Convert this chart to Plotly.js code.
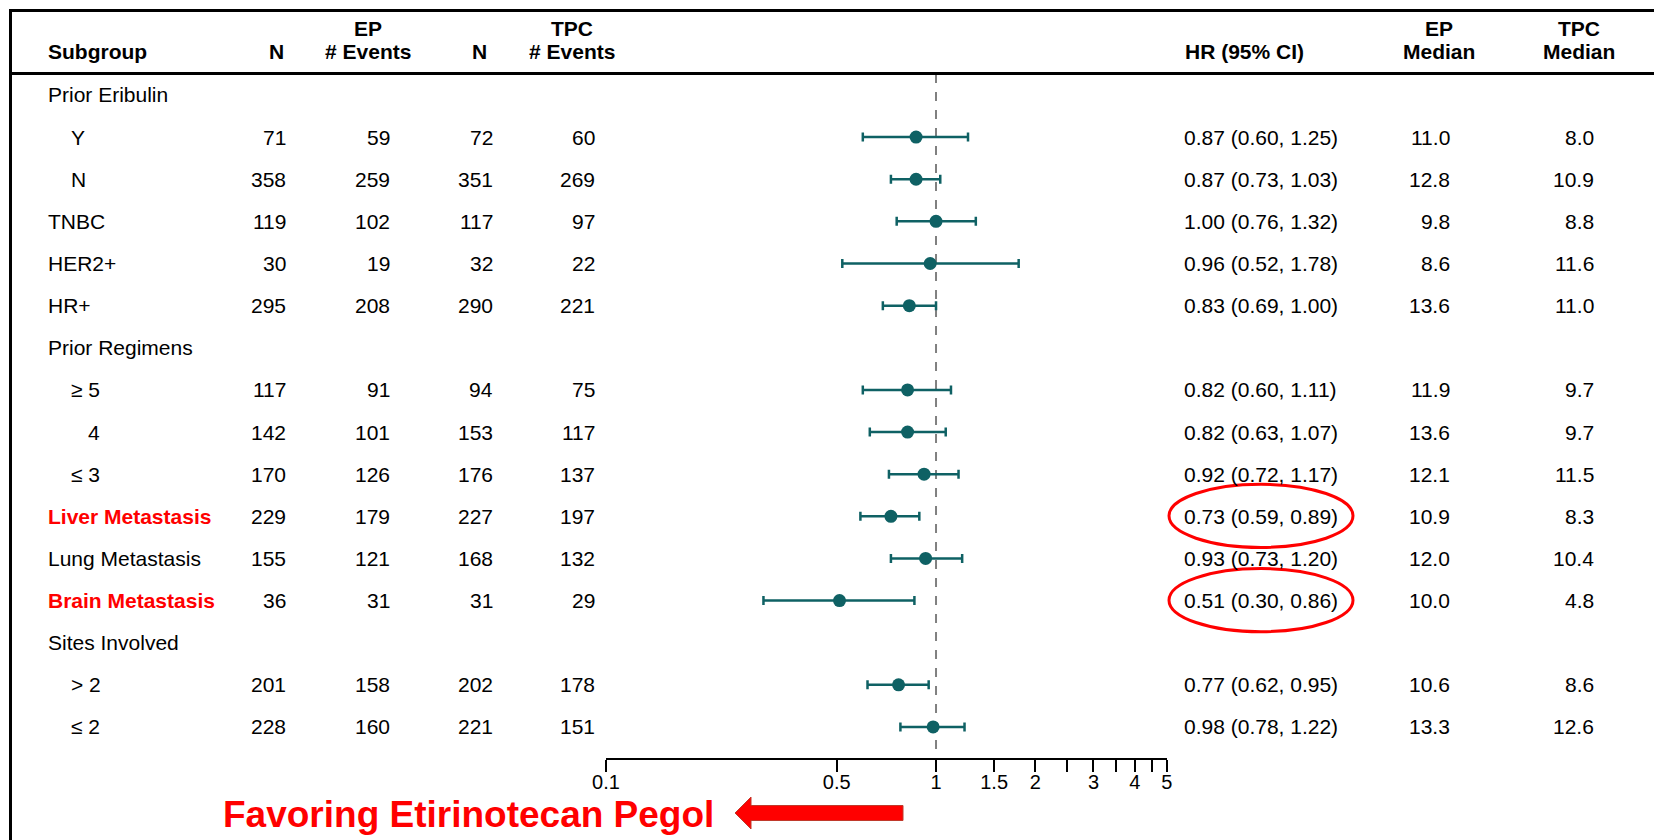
<!DOCTYPE html>
<html>
<head>
<meta charset="utf-8">
<script src="https://cdn.plot.ly/plotly-3.0.1.min.js"></script>
<style>html,body{margin:0;padding:0;background:#fff;}#chart{width:1654px;height:840px;}</style>
</head>
<body>
<div id="chart"></div>
<script>
// ---- data ----
const subgroups = ['Prior Eribulin','Y','N','TNBC','HER2+','HR+','Prior Regimens','≥ 5','4','≤ 3','Liver Metastasis','Lung Metastasis','Brain Metastasis','Sites Involved','> 2','≤ 2'];
const indentLevel = [0,1,1,0,0,0,0,1,2,1,0,0,0,0,1,1];
const highlighted = ['Liver Metastasis','Brain Metastasis'];
const epN       = [null,71,358,119,30,295,null,117,142,170,229,155,36,null,201,228];
const epEvents  = [null,59,259,102,19,208,null,91,101,126,179,121,31,null,158,160];
const tpcN      = [null,72,351,117,32,290,null,94,153,176,227,168,31,null,202,221];
const tpcEvents = [null,60,269,97,22,221,null,75,117,137,197,132,29,null,178,151];
const hr        = [null,0.87,0.87,1.00,0.96,0.83,null,0.82,0.82,0.92,0.73,0.93,0.51,null,0.77,0.98];
const hrLower   = [null,0.60,0.73,0.76,0.52,0.69,null,0.60,0.63,0.72,0.59,0.73,0.30,null,0.62,0.78];
const hrUpper   = [null,1.25,1.03,1.32,1.78,1.00,null,1.11,1.07,1.17,0.89,1.20,0.86,null,0.95,1.22];
const epMedian  = [null,'11.0','12.8','9.8','8.6','13.6',null,'11.9','13.6','12.1','10.9','12.0','10.0',null,'10.6','13.3'];
const tpcMedian = [null,'8.0','10.9','8.8','11.6','11.0',null,'9.7','9.7','11.5','8.3','10.4','4.8',null,'8.6','12.6'];
const tickVals  = [0.1,0.5,1,1.5,2,2.5,3,3.5,4,4.5,5];
const tickText  = ['0.1','0.5','1','1.5','2','','3','','4','','5'];
const favorLabel = 'Favoring Etirinotecan Pegol';

// ---- layout helpers ----
const W = 1654, H = 840;
const px = x => x / W;
const py = y => 1 - y / H;
const FONT = 'Liberation Sans, Arial, sans-serif';
const teal = '#0f6164';
const rows = subgroups.map((_, i) => i);
const fmt = v => v.toFixed(2);

const idx = rows.filter(i => hr[i] !== null);

const traces = [
  { // reference line at HR = 1
    x: [1, 1], y: [-0.5, 15.74], mode: 'lines', type: 'scatter',
    line: {color: '#808080', width: 2, dash: 'dash'}, hoverinfo: 'skip', showlegend: false
  },
  {
    x: idx.map(i => hr[i]), y: idx, type: 'scatter', mode: 'markers',
    marker: {color: teal, size: 13},
    error_x: {type: 'data', symmetric: false,
      array: idx.map(i => hrUpper[i] - hr[i]),
      arrayminus: idx.map(i => hr[i] - hrLower[i]),
      color: teal, thickness: 2.5, width: 4.5},
    showlegend: false
  }
];

const ann = [];
const txt = (x, y, text, anchor, opts = {}) => ann.push(Object.assign({
  xref: 'paper', yref: 'y', x: px(x), y: y, text: text, showarrow: false,
  xanchor: anchor, yanchor: 'middle',
  font: {family: FONT, size: 21, color: '#000'}
}, opts));

// header
const hdr = (x, y, text, anchor) => ann.push({
  xref: 'paper', yref: 'paper', x: px(x), y: py(y), text: '<b>' + text + '</b>', showarrow: false,
  xanchor: anchor, yanchor: 'middle', font: {family: FONT, size: 21, color: '#000'}
});
hdr(46, 51, 'Subgroup', 'left');
hdr(276, 51, 'N', 'center');
hdr(368, 29, 'EP', 'center');
hdr(368, 51, '# Events', 'center');
hdr(479, 51, 'N', 'center');
hdr(572, 29, 'TPC', 'center');
hdr(572, 51, '# Events', 'center');
hdr(1244, 51, 'HR (95% CI)', 'center');
hdr(1439, 29, 'EP', 'center');
hdr(1439, 51, 'Median', 'center');
hdr(1579, 29, 'TPC', 'center');
hdr(1579, 51, 'Median', 'center');

rows.forEach(i => {
  const hl = highlighted.includes(subgroups[i]);
  const labelX = 46 + [0, 23, 40][indentLevel[i]];
  txt(labelX, i, hl ? '<b>' + subgroups[i] + '</b>' : subgroups[i], 'left',
      {font: {family: FONT, size: 21, color: hl ? '#ff0000' : '#000'}});
  if (epN[i] !== null) {
    txt(288, i, String(epN[i]), 'right');
    txt(392, i, String(epEvents[i]), 'right');
    txt(495, i, String(tpcN[i]), 'right');
    txt(597, i, String(tpcEvents[i]), 'right');
    txt(1182, i, fmt(hr[i]) + ' (' + fmt(hrLower[i]) + ', ' + fmt(hrUpper[i]) + ')', 'left');
    txt(1452, i, epMedian[i], 'right');
    txt(1596, i, tpcMedian[i], 'right');
  }
});

// favoring label
ann.push({xref: 'paper', yref: 'paper', x: px(716), y: py(814), text: '<b>' + favorLabel + '</b>',
  showarrow: false, xanchor: 'right', yanchor: 'middle',
  font: {family: FONT, size: 37, color: '#ff0000'}});

const shapes = [
  {type: 'line', xref: 'paper', yref: 'paper', x0: px(9), x1: 1, y0: py(10.5), y1: py(10.5), line: {color: '#000', width: 3}},
  {type: 'line', xref: 'paper', yref: 'paper', x0: px(9), x1: 1, y0: py(73.5), y1: py(73.5), line: {color: '#000', width: 3}},
  {type: 'line', xref: 'paper', yref: 'paper', x0: px(10.5), x1: px(10.5), y0: py(9), y1: 0, line: {color: '#000', width: 3}}
];
// highlight ellipses around the HR text of highlighted rows
rows.filter(i => highlighted.includes(subgroups[i])).forEach(i => {
  shapes.push({type: 'circle', xref: 'paper', yref: 'y', x0: px(1169), x1: px(1353), y0: i - 0.76, y1: i + 0.74,
    line: {color: '#ff0000', width: 3}});
});
// arrow
const ay = 813, tip = 735, headEnd = 751, tail = 903, hh = 16, sh = 7.5;
const pts = [[tip, ay], [headEnd, ay - hh], [headEnd, ay - sh], [tail, ay - sh], [tail, ay + sh], [headEnd, ay + sh], [headEnd, ay + hh]];
shapes.push({type: 'path', xref: 'paper', yref: 'paper',
  path: 'M ' + pts.map(p => px(p[0]) + ',' + py(p[1])).join(' L ') + ' Z',
  fillcolor: '#ff0000', line: {color: '#c0392b', width: 1}});

const layout = {
  width: W, height: H,
  margin: {l: 0, r: 0, t: 0, b: 0},
  paper_bgcolor: '#fff', plot_bgcolor: 'rgba(0,0,0,0)',
  showlegend: false,
  xaxis: {
    type: 'log', range: [-1, Math.log10(5)], domain: [606 / W, 1166.7 / W],
    tickvals: tickVals, ticktext: tickText, ticks: 'outside', ticklen: 12, tickwidth: 2, tickcolor: '#000',
    ticklabelstandoff: -7,
    showline: true, linecolor: '#000', linewidth: 2, showgrid: false, zeroline: false,
    tickfont: {family: FONT, size: 20, color: '#000'}, fixedrange: true
  },
  yaxis: {
    range: [15.737, -0.498], domain: [py(758), py(74)],
    showgrid: false, zeroline: false, showticklabels: false, showline: false, ticks: '', fixedrange: true
  },
  annotations: ann,
  shapes: shapes,
  font: {family: FONT}
};

Plotly.newPlot('chart', traces, layout, {displayModeBar: false, staticPlot: true});
</script>
</body>
</html>
